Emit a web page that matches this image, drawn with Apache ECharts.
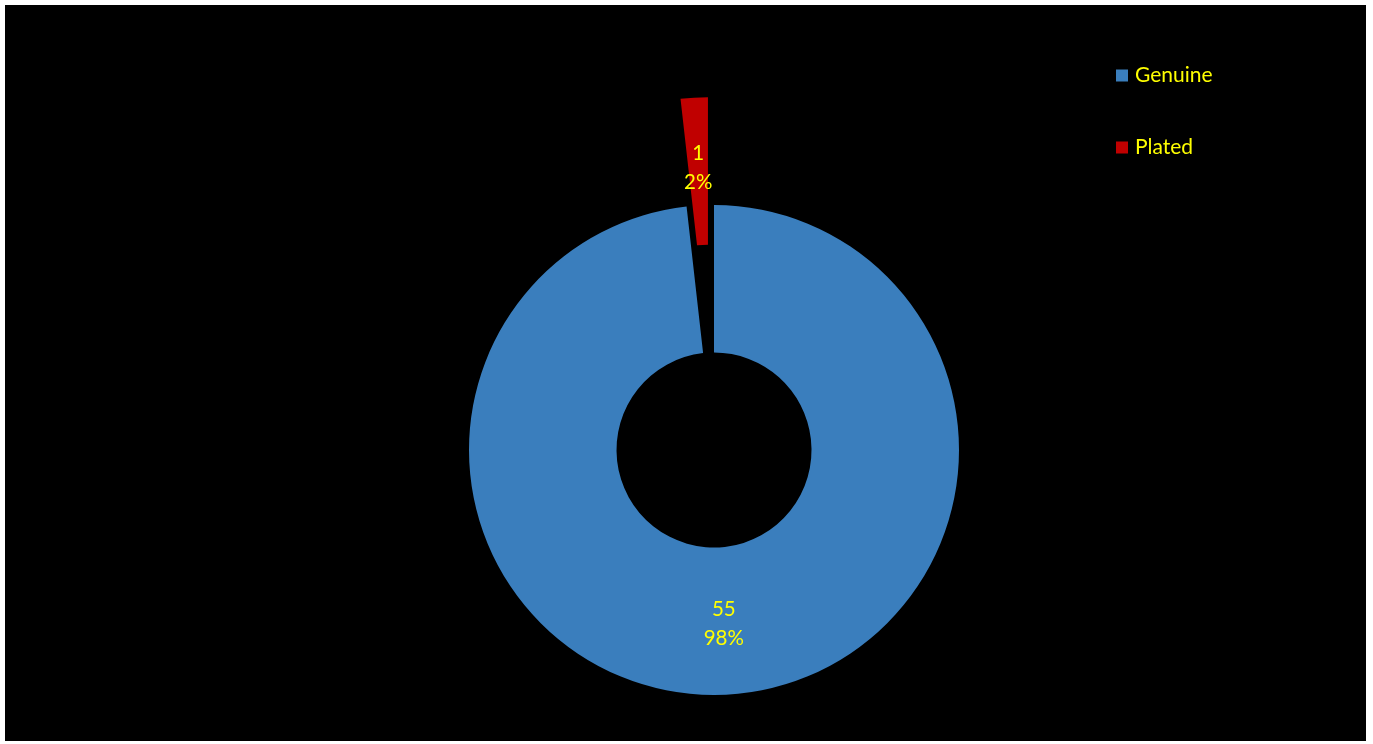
<!DOCTYPE html>
<html>
<head>
<meta charset="utf-8">
<script src="https://cdn.jsdelivr.net/npm/echarts@6/dist/echarts.min.js"></script>
<style>
html,body{margin:0;padding:0;background:#fff;width:1373px;height:744px;overflow:hidden;}
#c{position:absolute;left:5px;top:5px;width:1361px;height:736px;background:#000;}
</style>
</head>
<body>
<div id="c"></div>
<script>
const categories = ['Genuine', 'Plated'];
const values = [55, 1];
const colors = ['#3A7EBD', '#C00000'];

const chart = echarts.init(document.getElementById('c'));
chart.setOption({
  backgroundColor: '#000',
  animation: false,
  legend: {
    orient: 'vertical',
    left: 1106,
    top: 55,
    itemWidth: 12,
    itemHeight: 12,
    itemGap: 51,
    icon: 'rect',
    selectedMode: false,
    textStyle: { color: '#FFFF00', fontSize: 21, fontFamily: 'Lato', padding: [0, 0, 0, 2] },
    data: categories
  },
  series: [{
    type: 'pie',
    center: [709, 445],
    radius: [97.5, 245],
    startAngle: 90,
    clockwise: true,
    selectedMode: 'single',
    selectedOffset: 108,
    percentPrecision: 0,
    avoidLabelOverlap: false,
    emphasis: { disabled: true },
    label: {
      show: true,
      position: 'inside',
      formatter: '{c}\n{d}%',
      color: '#FFFF00',
      fontSize: 20.5,
      lineHeight: 29,
      padding: [8, 0, 0, 0],
      fontFamily: 'Lato',
      textBorderWidth: 0
    },
    labelLine: { show: false },
    data: categories.map((n, i) => ({
      name: n,
      value: values[i],
      selected: n === 'Plated',
      itemStyle: { color: colors[i] },
      select: { itemStyle: { color: colors[i] } }
    }))
  }]
});
</script>
</body>
</html>
